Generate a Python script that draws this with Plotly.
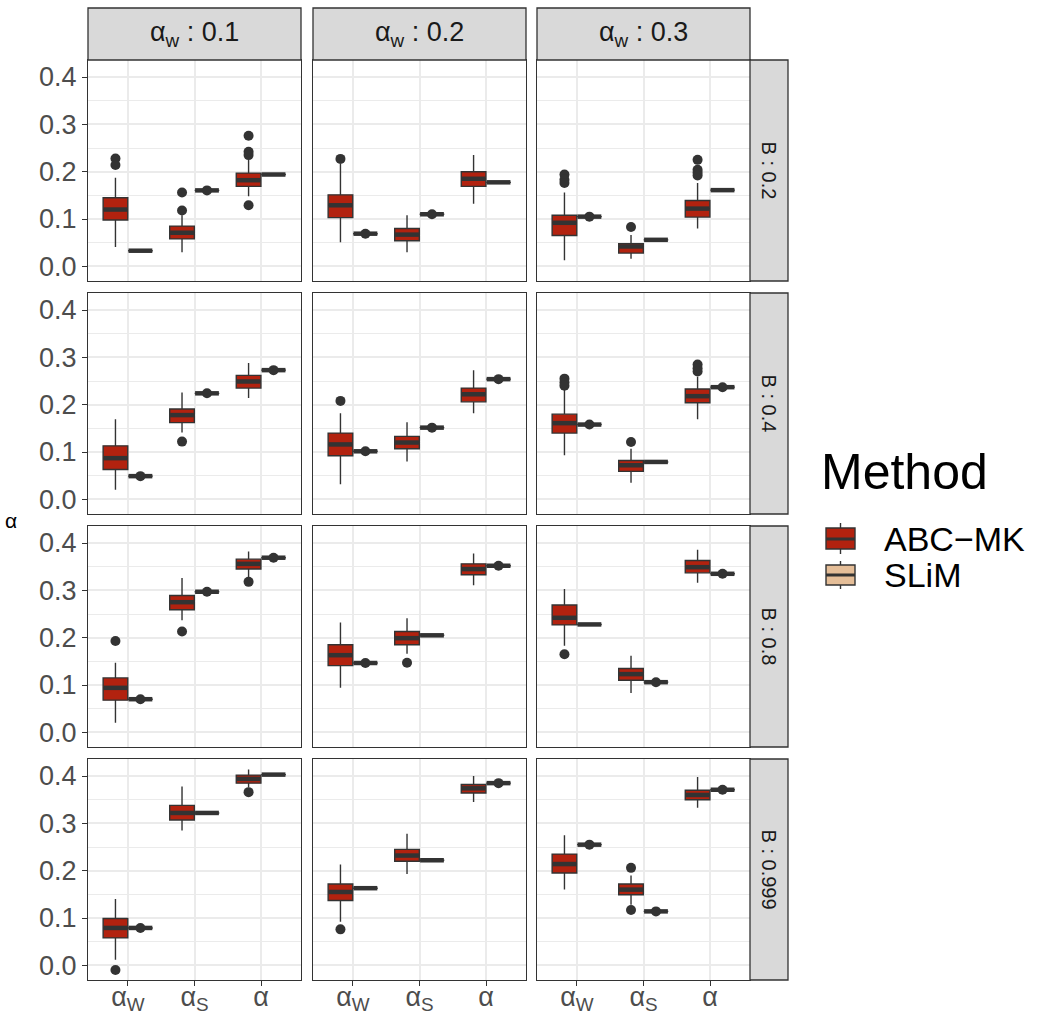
import plotly.graph_objects as go

# ---------------- data ----------------
categories = ["α<sub>W</sub>", "α<sub>S</sub>", "α"]
B_levels = ["0.2", "0.4", "0.8", "0.999"]
aw_levels = ["0.1", "0.2", "0.3"]
methods = ["ABC−MK", "SLiM"]

# ABC-MK box statistics: [row (B)][col (alpha_w)][category]
abc_q1 = [
    [[0.098, 0.058, 0.169], [0.103, 0.054, 0.169], [0.065, 0.028, 0.104]],
    [[0.063, 0.162, 0.235], [0.092, 0.107, 0.206], [0.140, 0.059, 0.204]],
    [[0.068, 0.259, 0.345], [0.141, 0.185, 0.333], [0.227, 0.110, 0.337]],
    [[0.058, 0.307, 0.385], [0.137, 0.220, 0.364], [0.195, 0.149, 0.350]],
]
abc_med = [
    [[0.120, 0.071, 0.182], [0.129, 0.067, 0.185], [0.092, 0.042, 0.122]],
    [[0.087, 0.178, 0.249], [0.116, 0.120, 0.222], [0.161, 0.072, 0.218]],
    [[0.094, 0.275, 0.356], [0.163, 0.199, 0.345], [0.242, 0.123, 0.349]],
    [[0.079, 0.322, 0.394], [0.155, 0.232, 0.374], [0.214, 0.160, 0.360]],
]
abc_q3 = [
    [[0.145, 0.085, 0.197], [0.151, 0.080, 0.200], [0.108, 0.048, 0.139]],
    [[0.113, 0.191, 0.262], [0.140, 0.133, 0.235], [0.180, 0.082, 0.233]],
    [[0.115, 0.289, 0.366], [0.185, 0.213, 0.356], [0.269, 0.135, 0.363]],
    [[0.099, 0.338, 0.402], [0.172, 0.245, 0.382], [0.235, 0.172, 0.370]],
]
abc_lo = [
    [[0.041, 0.030, 0.148], [0.051, 0.030, 0.132], [0.013, 0.016, 0.080]],
    [[0.020, 0.141, 0.214], [0.032, 0.080, 0.182], [0.093, 0.035, 0.169]],
    [[0.020, 0.237, 0.328], [0.094, 0.166, 0.311], [0.183, 0.083, 0.316]],
    [[0.012, 0.285, 0.376], [0.092, 0.193, 0.345], [0.160, 0.128, 0.333]],
]
abc_hi = [
    [[0.187, 0.108, 0.226], [0.216, 0.108, 0.235], [0.156, 0.066, 0.176]],
    [[0.169, 0.226, 0.288], [0.182, 0.163, 0.273], [0.233, 0.107, 0.259]],
    [[0.147, 0.326, 0.382], [0.232, 0.241, 0.378], [0.303, 0.162, 0.386]],
    [[0.140, 0.378, 0.414], [0.213, 0.278, 0.400], [0.275, 0.190, 0.398]],
]
abc_out = [
    [[[0.228, 0.214], [0.118, 0.156], [0.276, 0.242, 0.235, 0.129]],
     [[0.227], [], []],
     [[0.194, 0.183, 0.176], [0.083], [0.225, 0.204, 0.198, 0.192]]],
    [[[], [0.122], []],
     [[0.208], [], []],
     [[0.255, 0.247, 0.240], [0.121], [0.285, 0.277, 0.270]]],
    [[[0.193], [0.213], [0.318]],
     [[], [0.147], []],
     [[0.165], [], []]],
    [[[-0.010], [], [0.366]],
     [[0.076], [], []],
     [[], [0.206, 0.117], []]],
]

# SLiM values (all replicates essentially identical)
slim_val = [
    [[0.033, 0.1605, 0.194], [0.069, 0.110, 0.1775], [0.105, 0.056, 0.161]],
    [[0.049, 0.224, 0.273], [0.1015, 0.1515, 0.254], [0.158, 0.079, 0.237]],
    [[0.070, 0.297, 0.369], [0.1465, 0.205, 0.352], [0.228, 0.106, 0.335]],
    [[0.079, 0.322, 0.403], [0.163, 0.222, 0.385], [0.255, 0.114, 0.371]],
]
slim_out = [
    [[[], [0.1605], []], [[0.069], [0.110], []], [[0.105], [], []]],
    [[[0.049], [0.224], [0.273]], [[0.1015], [0.1515], [0.254]], [[0.158], [], [0.237]]],
    [[[0.070], [0.297], [0.369]], [[0.1465], [], [0.352]], [[], [0.106], [0.335]]],
    [[[0.079], [], []], [[], [], [0.385]], [[0.255], [0.114], [0.371]]],
]

# ---------------- styling ----------------
W, H = 1046, 1014
FONT = "Liberation Sans, Arial, Helvetica, sans-serif"
DARK = "#333333"
COL_ABC = "#B2220F"
COL_SLIM = "#E5BE98"
STRIP = "#D9D9D9"
GRID = "#EBEBEB"

col_px = [(88, 301), (313, 526), (537, 750)]
row_px = [(60, 281), (293, 514), (526, 747), (759, 980)]
strip_top = (8, 60)
strip_right = (750, 788)
DODGE = 0.1875
BOXW = 0.37

fig = go.Figure()
layout_axes = {}
shapes = []
annotations = []

for r in range(4):
    for c in range(3):
        idx = r * 3 + c + 1
        xa = "x" if idx == 1 else f"x{idx}"
        ya = "y" if idx == 1 else f"y{idx}"
        xkey = "xaxis" if idx == 1 else f"xaxis{idx}"
        ykey = "yaxis" if idx == 1 else f"yaxis{idx}"
        pos = [k + 1 for k in range(len(categories))]
        x_abc = [p - DODGE for p in pos]
        x_slim = [p + DODGE for p in pos]

        fig.add_trace(go.Box(
            x=x_abc, q1=abc_q1[r][c], median=abc_med[r][c], q3=abc_q3[r][c],
            lowerfence=abc_lo[r][c], upperfence=abc_hi[r][c],
            width=BOXW, orientation="v", boxpoints=False, whiskerwidth=0,
            fillcolor=COL_ABC, line=dict(color=DARK, width=1.4),
            xaxis=xa, yaxis=ya, showlegend=False, hoverinfo="skip"))
        sv = slim_val[r][c]
        fig.add_trace(go.Box(
            x=x_slim, q1=sv, median=sv, q3=sv, lowerfence=sv, upperfence=sv,
            width=BOXW, orientation="v", boxpoints=False, whiskerwidth=0,
            fillcolor=COL_SLIM, line=dict(color=DARK, width=1.4),
            xaxis=xa, yaxis=ya, showlegend=False, hoverinfo="skip"))
        # thick median lines (ggplot fatten)
        fig.add_trace(go.Scatter(
            x=x_abc + x_slim, y=abc_med[r][c] + sv, mode="markers",
            marker=dict(symbol="line-ew", size=17, line=dict(color=DARK, width=4.5)),
            xaxis=xa, yaxis=ya, showlegend=False, hoverinfo="skip"))
        # outliers
        ox, oy = [], []
        for k in range(len(categories)):
            for v in abc_out[r][c][k]:
                ox.append(x_abc[k]); oy.append(v)
            for v in slim_out[r][c][k]:
                ox.append(x_slim[k]); oy.append(v)
        if ox:
            fig.add_trace(go.Scatter(
                x=ox, y=oy, mode="markers",
                marker=dict(symbol="circle", size=10, color=DARK),
                xaxis=xa, yaxis=ya, showlegend=False, hoverinfo="skip"))

        x0, x1 = col_px[c]
        y0, y1 = row_px[r]
        layout_axes[xkey] = dict(
            domain=[x0 / W, x1 / W], anchor=ya, range=[0.4, 3.6], automargin=False,
            tickvals=pos, ticktext=categories,
            showticklabels=(r == 3), ticks="outside" if r == 3 else "",
            ticklen=5, tickwidth=1.3, tickcolor=DARK, ticklabelstandoff=-13,
            tickfont=dict(family=FONT, size=27, color="#4D4D4D"),
            showgrid=True, gridcolor=GRID, gridwidth=2,
            showline=True, linecolor=DARK, linewidth=1.3, mirror=True,
            zeroline=False, fixedrange=True)
        layout_axes[ykey] = dict(
            domain=[1 - y1 / H, 1 - y0 / H], anchor=xa, range=[-0.031, 0.436], automargin=False,
            tickvals=[0, 0.1, 0.2, 0.3, 0.4],
            ticktext=["0.0", "0.1", "0.2", "0.3", "0.4"],
            showticklabels=(c == 0), ticks="outside" if c == 0 else "",
            ticklen=5, tickwidth=1.3, tickcolor=DARK,
            tickfont=dict(family=FONT, size=27, color="#4D4D4D"),
            showgrid=True, gridcolor=GRID, gridwidth=2,
            minor=dict(tickvals=[0.05, 0.15, 0.25, 0.35], showgrid=True,
                       gridcolor=GRID, gridwidth=1, ticks=""),
            showline=True, linecolor=DARK, linewidth=1.3, mirror=True,
            zeroline=False, fixedrange=True)

# facet strips (top)
for c, lev in enumerate(aw_levels):
    x0, x1 = col_px[c]
    shapes.append(dict(type="rect", xref="paper", yref="paper",
                       x0=x0 / W, x1=x1 / W, y0=1 - strip_top[1] / H, y1=1 - strip_top[0] / H,
                       fillcolor=STRIP, line=dict(color=DARK, width=1.3), layer="above"))
    annotations.append(dict(xref="paper", yref="paper", x=(x0 + x1) / 2 / W,
                            y=1 - (strip_top[0] + strip_top[1]) / 2 / H,
                            text=f"α<sub>w</sub> : {lev}", showarrow=False,
                            font=dict(family=FONT, size=27, color="#1A1A1A"),
                            xanchor="center", yanchor="middle"))
# facet strips (right)
for r, lev in enumerate(B_levels):
    y0, y1 = row_px[r]
    shapes.append(dict(type="rect", xref="paper", yref="paper",
                       x0=strip_right[0] / W, x1=strip_right[1] / W, y0=1 - y1 / H, y1=1 - y0 / H,
                       fillcolor=STRIP, line=dict(color=DARK, width=1.3), layer="above"))
    annotations.append(dict(xref="paper", yref="paper", x=(strip_right[0] + strip_right[1]) / 2 / W,
                            y=1 - (y0 + y1) / 2 / H, text=f"B : {lev}", textangle=90,
                            showarrow=False, font=dict(family=FONT, size=20, color="#1A1A1A"),
                            xanchor="center", yanchor="middle"))

# y-axis title
annotations.append(dict(xref="paper", yref="paper", x=11 / W, y=1 - 520 / H, text="α",
                        showarrow=False,
                        font=dict(family=FONT, size=21, color="#000000"),
                        xanchor="center", yanchor="middle"))

# legend (drawn manually to match ggplot key size)
annotations.append(dict(xref="paper", yref="paper", x=819 / W, y=1 - 472 / H, text="Method",
                        showarrow=False, font=dict(family=FONT, size=50, color="#000000"),
                        xanchor="left", yanchor="middle"))
legend_items = [(methods[0], COL_ABC, (528, 549), (523, 554), 539),
                (methods[1], COL_SLIM, (565, 585), (561, 589), 575)]
kx0, kx1 = 826, 855
for name, col, (by0, by1), (wy0, wy1), yc in legend_items:
    xm = (kx0 + kx1) / 2
    shapes.append(dict(type="line", xref="paper", yref="paper", x0=xm / W, x1=xm / W,
                       y0=1 - wy0 / H, y1=1 - wy1 / H, line=dict(color=DARK, width=1.4)))
    shapes.append(dict(type="rect", xref="paper", yref="paper", x0=kx0 / W, x1=kx1 / W,
                       y0=1 - by1 / H, y1=1 - by0 / H, fillcolor=col,
                       line=dict(color=DARK, width=1.4)))
    shapes.append(dict(type="line", xref="paper", yref="paper", x0=kx0 / W, x1=kx1 / W,
                       y0=1 - yc / H, y1=1 - yc / H, line=dict(color=DARK, width=3)))
    annotations.append(dict(xref="paper", yref="paper", x=882 / W, y=1 - yc / H, text=name,
                            showarrow=False, font=dict(family=FONT, size=34, color="#000000"),
                            xanchor="left", yanchor="middle"))

fig.update_layout(
    width=W, height=H, margin=dict(l=0, r=0, t=0, b=0, autoexpand=False),
    paper_bgcolor="white", plot_bgcolor="white",
    font=dict(family=FONT), showlegend=False,
    shapes=shapes, annotations=annotations, **layout_axes)

fig.write_html("out.html")
